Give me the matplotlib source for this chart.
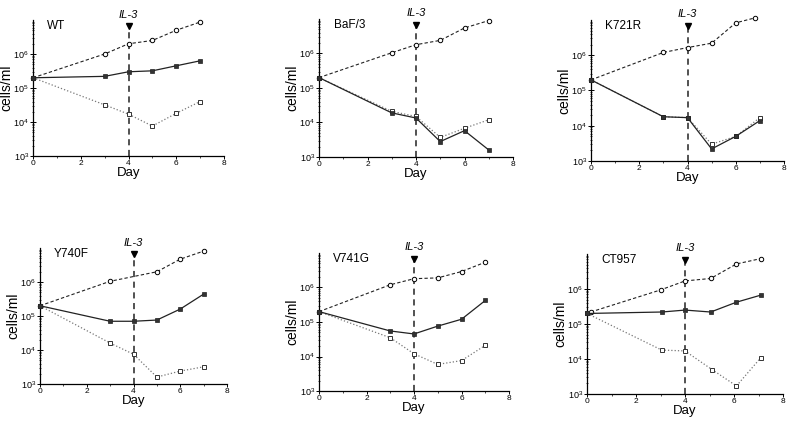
import matplotlib
matplotlib.use("Agg")
import matplotlib.pyplot as plt
from matplotlib.ticker import LogLocator, NullFormatter, MultipleLocator

plt.rcParams['font.family'] = ['Liberation Sans', 'DejaVu Sans']

# panel names
panels = ["WT", "BaF/3", "K721R", "Y740F", "V741G", "CT957"]

# dashed line with circles (top curve)
circ_days = [
    [0, 3, 4, 5, 6, 7],
    [0, 3, 4, 5, 6, 7],
    [0, 3, 4, 5, 6, 6.8],
    [0, 3, 5, 6, 7],
    [0, 3, 4, 5, 6, 7],
    [0.15, 3, 4, 5.05, 6.1, 7.1],
]
circ_vals = [
    [2e5, 1.0e6, 2.0e6, 2.5e6, 5.0e6, 8.7e6],
    [2e5, 1.05e6, 1.8e6, 2.4e6, 5.5e6, 9.0e6],
    [2e5, 1.2e6, 1.65e6, 2.2e6, 8.3e6, 1.15e7],
    [2e5, 1.05e6, 2.0e6, 4.7e6, 8.1e6],
    [2e5, 1.2e6, 1.8e6, 1.9e6, 2.9e6, 5.4e6],
    [2.2e5, 9.4e5, 1.7e6, 2.0e6, 5.2e6, 7.4e6],
]

# solid line with filled squares
fill_days = [
    [0, 3, 4, 5, 6, 7],
    [0, 3, 4, 5, 6, 7],
    [0, 3, 4, 5, 6, 7],
    [0, 3, 4, 5, 6, 7],
    [0, 3, 4, 5, 6, 7],
    [0, 3.05, 4, 5.05, 6.1, 7.1],
]
fill_vals = [
    [2e5, 2.2e5, 3.0e5, 3.2e5, 4.5e5, 6.3e5],
    [2e5, 1.9e4, 1.35e4, 2.8e3, 5.8e3, 1.6e3],
    [2e5, 1.8e4, 1.7e4, 2.2e3, 5.0e3, 1.4e4],
    [2e5, 7.0e4, 7.0e4, 7.6e4, 1.6e5, 4.4e5],
    [2e5, 5.5e4, 4.5e4, 7.6e4, 1.2e5, 4.2e5],
    [2e5, 2.2e5, 2.5e5, 2.2e5, 4.2e5, 6.7e5],
]

# dotted line with open squares
open_days = [
    [0, 3, 4, 5, 6, 7],
    [0, 3, 4, 5, 6, 7],
    [0, 3, 4, 5, 6, 7],
    [0, 3, 4, 5, 6, 7],
    [0, 3, 4, 5, 6, 7],
    [0, 3.05, 4, 5.1, 6.1, 7.1],
]
open_vals = [
    [2e5, 3.2e4, 1.7e4, 7.6e3, 1.8e4, 4.0e4],
    [2e5, 2.1e4, 1.5e4, 3.7e3, 6.8e3, 1.2e4],
    [2e5, 1.8e4, 1.7e4, 3.0e3, 5.0e3, 1.7e4],
    [2e5, 1.6e4, 7.5e3, 1.6e3, 2.4e3, 3.2e3],
    [2e5, 3.5e4, 1.2e4, 5.9e3, 7.6e3, 2.1e4],
    [2e5, 1.8e4, 1.7e4, 5.0e3, 1.7e3, 1.1e4],
]

# axes boxes in pixels: left, right, top, bottom
boxes = [
    (33, 224, 20, 156),
    (319, 513, 19, 157),
    (591, 784, 20, 161),
    (40, 227, 248, 384),
    (319, 509, 253, 391),
    (587, 783, 254, 394),
]

W, H = 800, 423
fig = plt.figure(figsize=(8, 4.23), dpi=100)

for i, name in enumerate(panels):
    l, r, t, b = boxes[i]
    ax = fig.add_axes([l / W, 1 - b / H, (r - l) / W, (b - t) / H])
    ax.set_yscale('log')
    ax.set_xlim(0, 8)
    ax.set_ylim(1e3, 1e7)

    ax.plot(circ_days[i], circ_vals[i], ls=(0, (3, 2)), lw=0.8, color='#222222',
            marker='o', ms=3.2, mfc='white', mec='black', mew=0.7, clip_on=False, zorder=3)
    ax.plot(open_days[i], open_vals[i], ls=':', lw=0.9, color='#777777',
            marker='s', ms=3.2, mfc='white', mec='#333333', mew=0.7, clip_on=False, zorder=3)
    ax.plot(fill_days[i], fill_vals[i], ls='-', lw=0.9, color='#222222',
            marker='s', ms=3.2, mfc='#333333', mec='#222222', mew=0.5, clip_on=False, zorder=4)

    # IL-3 marker
    tr = ax.get_xaxis_transform()
    ax.plot([4, 4], [0, 0.95], transform=tr, ls=(0, (4, 3)), lw=1.1, color='#222222',
            clip_on=False, zorder=2)
    ax.plot([4], [0.955], transform=tr, marker='v', ms=5, color='black',
            clip_on=False, zorder=5)
    ax.text(4, 1.04, "IL-3", transform=tr, ha='center', va='center',
            fontsize=8, style='italic')

    ax.text(0.075, 0.955, name, transform=ax.transAxes, ha='left', va='center', fontsize=8.5)

    for side in ('top', 'right'):
        ax.spines[side].set_visible(False)
    ax.spines['left'].set_linewidth(0.9)
    ax.spines['bottom'].set_linewidth(0.9)

    ax.set_yticks([1e3, 1e4, 1e5, 1e6])
    ax.yaxis.set_minor_locator(LogLocator(base=10, subs=range(2, 10), numticks=20))
    ax.yaxis.set_minor_formatter(NullFormatter())
    ax.xaxis.set_major_locator(MultipleLocator(2))
    ax.xaxis.set_minor_locator(MultipleLocator(1))
    ax.tick_params(axis='y', which='major', direction='inout', length=4, width=0.7,
                   labelsize=6.5, pad=1)
    ax.tick_params(axis='y', which='minor', direction='inout', length=2, width=0.5)
    ax.tick_params(axis='x', which='major', direction='out', length=2, width=0.7,
                   labelsize=6, pad=1)
    ax.tick_params(axis='x', which='minor', direction='out', length=1.5, width=0.5)

    ax.set_xlabel("Day", fontsize=9.5, labelpad=0)
    ax.set_ylabel("cells/ml", fontsize=10, labelpad=0)

fig.savefig("out.png", dpi=100)
